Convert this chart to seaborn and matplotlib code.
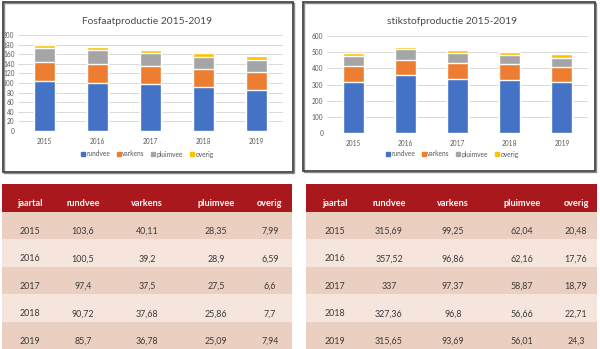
import matplotlib
matplotlib.use("Agg")
import matplotlib.pyplot as plt
from matplotlib.patches import Rectangle
from matplotlib.lines import Line2D
import seaborn as sns
import pandas as pd
import numpy as np

# ---------------- data ----------------
years = ["2015", "2016", "2017", "2018", "2019"]
series = ["rundvee", "varkens", "pluimvee", "overig"]

fos_rundvee = [103.6, 100.5, 97.4, 90.72, 85.7]
fos_varkens = [40.11, 39.2, 37.5, 37.68, 36.78]
fos_pluimvee = [28.35, 28.9, 27.5, 25.86, 25.09]
fos_overig = [7.99, 6.59, 6.6, 7.7, 7.94]

stik_rundvee = [315.69, 357.52, 337, 327.36, 315.65]
stik_varkens = [99.25, 96.86, 97.37, 96.8, 93.69]
stik_pluimvee = [62.04, 62.16, 58.87, 56.66, 56.01]
stik_overig = [20.48, 17.76, 18.79, 22.71, 24.3]

fos_title = "Fosfaatproductie 2015-2019"
stik_title = "stikstofproductie 2015-2019"
fos_yticks = [0, 20, 40, 60, 80, 100, 120, 140, 160, 180, 200]
stik_yticks = [0, 100, 200, 300, 400, 500, 600]
table_header = ["jaartal", "rundvee", "varkens", "pluimvee", "overig"]

colors = ["#4472C4", "#ED7D31", "#A5A5A5", "#FFC000"]

sns.set_theme(style="white")
plt.rcParams["font.family"] = ["Lato", "DejaVu Sans"]

W, H = 600, 349
fig = plt.figure(figsize=(6, 3.49), dpi=100)


def fx(px):
    return px / W


def fy(py):
    return 1 - py / H


def chart(rect_px, vals, title, yticks, box_px, title_x):
    l, r, t, b = rect_px
    ax = fig.add_axes([fx(l), fy(b), fx(r - l), (b - t) / H])
    df = pd.DataFrame({s: v for s, v in zip(series, vals)}, index=years)
    cum = df.cumsum(axis=1)
    for i in range(len(series) - 1, -1, -1):
        sns.barplot(x=years, y=cum[series[i]].values, color=colors[i],
                    saturation=1, width=0.4, ax=ax, zorder=3)
    ax.set_ylim(yticks[0], yticks[-1])
    ax.set_xlim(-0.5, len(years) - 0.5)
    ax.set_yticks(yticks)
    ax.set_yticklabels([str(v) for v in yticks])
    ax.yaxis.grid(True, color="#D9D9D9", linewidth=0.7, zorder=0)
    ax.set_axisbelow(True)
    for s in ax.spines.values():
        s.set_visible(False)
    ax.tick_params(axis="both", length=0, labelsize=4.7, colors="#595959")
    ax.tick_params(axis="x", pad=5)
    ax.tick_params(axis="y", pad=2.5)
    ax.set_xlabel("")
    ax.set_ylabel("")
    fig.text(fx(title_x), fy(22), title, ha="center", va="center",
             fontsize=7.4, color="#4A4A4A")
    handles = [Line2D([0], [0], marker="s", linestyle="", markersize=3.2,
                      markerfacecolor=c, markeredgecolor=c) for c in colors]
    fig.legend(handles, series, loc="center", ncol=4,
               bbox_to_anchor=(fx(title_x), fy(154)), frameon=False,
               fontsize=4.8, handletextpad=0.1, columnspacing=0.9,
               labelcolor="#595959", handlelength=0.8)
    bl, bt, br, bb = box_px
    # soft shadow on the right/bottom edge
    fig.add_artist(Rectangle((fx(bl + 1), fy(bb + 1)), fx(br - bl), (bb - bt) / H,
                             transform=fig.transFigure, fill=False,
                             edgecolor="#8A8A8A", linewidth=1.0))
    fig.add_artist(Rectangle((fx(bl), fy(bb)), fx(br - bl), (bb - bt) / H,
                             transform=fig.transFigure, fill=False,
                             edgecolor="#3A3A3A", linewidth=1.2))
    return ax


chart((18, 283, 35, 131),
      [fos_rundvee, fos_varkens, fos_pluimvee, fos_overig],
      fos_title, fos_yticks, (3, 2, 293, 172), 147)
chart((327, 588, 36, 133),
      [stik_rundvee, stik_varkens, stik_pluimvee, stik_overig],
      stik_title, stik_yticks, (303, 2, 595, 171), 452)


def fmt(v):
    return format(v, "g").replace(".", ",")


def table(x0, x1, colpos, cols):
    top, bottom = 184, 349
    ax = fig.add_axes([fx(x0), fy(bottom), fx(x1 - x0), (bottom - top) / H])
    nrows = len(years) + 1
    ax.set_xlim(0, 1)
    ax.set_ylim(nrows, 0)
    ax.axis("off")
    fills = ["#A8181C", "#EBD0C2", "#F5E5DD"]
    for r in range(nrows):
        c = fills[0] if r == 0 else fills[1 + (r - 1) % 2]
        ax.axhspan(r, r + 1, color=c, zorder=0, linewidth=0)
    for j, h in enumerate(table_header):
        ax.text(colpos[j], 0.72, h, ha="center", va="center", fontsize=6.6,
                fontweight="bold", color="white")
    for i, y in enumerate(years):
        row = [y] + [fmt(col[i]) for col in cols]
        for j, txt in enumerate(row):
            ax.text(colpos[j], i + 1 + 0.72, txt, ha="center", va="center",
                    fontsize=6.4, color="#3A3A3A")


table(2, 292, [0.097, 0.279, 0.5, 0.738, 0.924],
      [fos_rundvee, fos_varkens, fos_pluimvee, fos_overig])
table(306, 597, [0.1, 0.285, 0.505, 0.742, 0.928],
      [stik_rundvee, stik_varkens, stik_pluimvee, stik_overig])

fig.savefig("out.png", dpi=100)
